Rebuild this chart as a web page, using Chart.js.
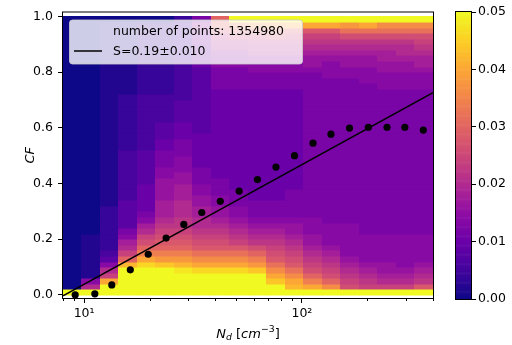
<!DOCTYPE html>
<html><head><meta charset="utf-8">
<script src="https://cdn.jsdelivr.net/npm/chart.js@4.4.0/dist/chart.umd.min.js"></script>
<style>
html,body{margin:0;padding:0;background:#fff;overflow:hidden}
#wrap{position:relative;width:512px;height:345px}
#main{position:absolute;left:0;top:0}
#cbar{position:absolute;left:440px;top:0}
</style></head><body>
<div id="wrap"><canvas id="main" width="512" height="345"></canvas><canvas id="cbar" width="72" height="345"></canvas></div>
<script>
// ---------------- data ----------------
const ndBinEdges = [8.0, 9.728, 11.83, 14.38, 17.49, 21.27, 25.86, 31.45, 38.24, 46.51, 56.55, 68.77, 83.62, 101.7, 123.6, 150.3, 182.8, 222.3, 270.3, 328.7, 400.0];
const cfBinWidth = 0.02;
// one string per Nd column, bottom (CF=0) to top (CF=1); letter a..z = 0..0.05 (step 0.002), Z = above 0.05; number = run length
const histColumns = [
  "Z1a49",
  "Z1k1h1b8a39",
  "Z2u1m1k1h1e1d1c8b33a1",
  "Z5v1p1m1k1j1h1g1e5d9c10b13a1",
  "Z5x1u1r1p1n1m1k1j1h1g1f5e6d10c13a1",
  "Z5w1t1r1p1o1n1m1l1k1j3i4h2g3f2e3d5c13a1",
  "Z4y1v1t1r1p1o1n1m1l2k3j3i2h3g3f3e4d14c1",
  "Z4x1u1s1q1o1n1m1l1k2j2i2h2g3f6e12f4g2h1i1g1",
  "Z4x1u1s1q1o1n1m1l1k1j1i2h2g3f16g4h2i1j1k1l1n1p2",
  "Z4x1u1s1q1o1m1l1k1j1i1h2g3f18g4h2i1j1k1m1o1r1Z1",
  "Z4w1t1r1p1n1l1k1j1i1h1g3f20g3h2i1j1k1l1m1o1s1Z1",
  "Z2w1u1s1q1o1n1m1l1k1j1i1h1g3f20g3h2i1j1k1l1n1p1t1Z1",
  "Z1v1u1s1q1o1n1m1l1k1j1i2h1g5f18g3h2i1j1k1l1m1o1u1Z1",
  "Z1u1r1p1n1m1l1k1j1i2h3g26h1i2j1k1l1m1o1u1Z1",
  "Z1s1p1n1m1l1k1j1i1h4g26h3i1j1k1l1m1o1u1Z1",
  "Z1n1m1l1k1j1i1h6g26h2i2j1k1l1n1q1t1Z1",
  "Z1m1l1k1j1i1h5g27h3i2j1k1l1n1q1u1Z1",
  "Z1m1k1j1i2h5g26h3i2j2k1l1n1q1s1Z1",
  "Z1m1k1j1i1h6g26h3i2j1k2l1n1q1s1Z1",
  "Z1o1l1k1j1i1h5g26h3i1j2k1l1m1n1q1s1Z1"
];
const ndBinMean = [9.1, 11.2, 13.4, 16.3, 19.7, 23.8, 28.7, 34.7, 42.2, 51.5, 62.5, 76.0, 92.5, 112.5, 136, 165.5, 202, 246, 297, 361];
const cfBinMean = [0.0, 0.004, 0.036, 0.09, 0.146, 0.204, 0.253, 0.296, 0.336, 0.373, 0.414, 0.459, 0.50, 0.545, 0.577, 0.599, 0.602, 0.602, 0.602, 0.592];
const fitNd = [8.0, 400.0];
const fitCf = [-0.003, 0.726];
const cfTicks = [0.0, 0.2, 0.4, 0.6, 0.8, 1.0];
const ndMajorTicks = [10, 100];
const ndMinorTicks = [8, 9, 20, 30, 40, 50, 60, 70, 80, 90, 200, 300, 400];
const cbarTicks = [0.00, 0.01, 0.02, 0.03, 0.04, 0.05];
const legendTexts = ["number of points: 1354980", "S=0.19±0.010"];
const vmax = 0.05;

// ---------------- helpers ----------------
const FONT = "'DejaVu Sans', sans-serif";
const PLASMA = [[13,8,135],[65,4,157],[106,0,168],[143,13,164],[177,42,144],[204,71,120],[225,100,98],[242,132,75],[252,166,54],[252,206,37],[240,249,33]];
function plasma(t){
  t = Math.max(0, Math.min(1, t));
  const s = t*10, i = Math.min(9, Math.floor(s)), f = s - i, a = PLASMA[i], b = PLASMA[i+1];
  return 'rgb(' + [0,1,2].map(k => Math.round(a[k] + (b[k]-a[k])*f)).join(',') + ')';
}
function decodeColumn(s){
  const out = []; const re = /([A-Za-z])(\d+)/g; let m;
  while ((m = re.exec(s))) {
    const v = m[1] === 'Z' ? 0.06 : (m[1].charCodeAt(0) - 97) * 0.002;
    for (let k = 0; k < +m[2]; k++) out.push(v);
  }
  return out.slice(0, 50);
}
const hist = histColumns.map(decodeColumn);

const heatmapPlugin = {
  id: 'heatmap',
  beforeDatasetsDraw(chart){
    const {ctx, chartArea: a, scales: {x, y}} = chart;
    ctx.save();
    ctx.beginPath(); ctx.rect(a.left, a.top, a.right - a.left, a.bottom - a.top); ctx.clip();
    hist.forEach((col, i) => {
      const x0 = x.getPixelForValue(ndBinEdges[i]), x1 = x.getPixelForValue(ndBinEdges[i+1]);
      col.forEach((v, j) => {
        const yb = y.getPixelForValue(j*cfBinWidth), yt = y.getPixelForValue((j+1)*cfBinWidth);
        ctx.fillStyle = plasma(v / vmax);
        ctx.fillRect(Math.round(x0), Math.round(yt), Math.round(x1) - Math.round(x0) + 0.5, Math.round(yb) - Math.round(yt) + 0.5);
      });
    });
    ctx.restore();
  },
  afterDatasetsDraw(chart){
    const {ctx, chartArea: a, scales: {x}} = chart;
    ctx.save();
    // frame
    ctx.strokeStyle = '#000'; ctx.lineWidth = 1;
    ctx.strokeRect(a.left - 0.5, a.top - 0.5, a.right - a.left + 1, a.bottom - a.top + 1);
    // minor ticks on log axis
    ctx.beginPath();
    ndMinorTicks.forEach(v => {
      const px = Math.round(x.getPixelForValue(v)) + 0.5;
      ctx.moveTo(px, a.bottom); ctx.lineTo(px, a.bottom + 3);
    });
    ctx.stroke();
    // legend
    const lx = a.left + 6.5, ly = a.top + 7.5, lw = 233, lh = 44;
    ctx.beginPath(); ctx.roundRect(lx, ly, lw, lh, 3);
    ctx.fillStyle = 'rgba(255,255,255,0.8)'; ctx.fill();
    ctx.strokeStyle = 'rgba(204,204,204,0.8)'; ctx.stroke();
    ctx.font = `12.5px ${FONT}`; ctx.fillStyle = '#000'; ctx.textBaseline = 'middle'; ctx.textAlign = 'left';
    ctx.fillText(legendTexts[0], lx + 43.5, ly + 11.5);
    ctx.fillText(legendTexts[1], lx + 43.5, ly + 31.5);
    ctx.beginPath(); ctx.moveTo(lx + 4.5, ly + 31); ctx.lineTo(lx + 32.5, ly + 31);
    ctx.strokeStyle = '#000'; ctx.lineWidth = 1.5; ctx.stroke();
    ctx.restore();
  },
  afterDraw(chart){
    const {ctx, chartArea: a} = chart;
    ctx.save();
    ctx.fillStyle = '#000'; ctx.textBaseline = 'alphabetic';
    // x title: N_d [cm^-3]
    const base = 13, small = 9.3;
    const parts = [
      {t:'N', f:`italic ${base}px ${FONT}`, dy:0},
      {t:'d', f:`italic ${small}px ${FONT}`, dy:2.5},
      {t:' [', f:`${base}px ${FONT}`, dy:0},
      {t:'cm', f:`italic ${base}px ${FONT}`, dy:0},
      {t:'\u22123', f:`${small}px ${FONT}`, dy:-5.5},
      {t:']', f:`${base}px ${FONT}`, dy:0}
    ];
    let w = 0;
    parts.forEach(p => { ctx.font = p.f; p.w = ctx.measureText(p.t).width; w += p.w; });
    let cx = (a.left + a.right)/2 - w/2; const by = 337.5;
    parts.forEach(p => { ctx.font = p.f; ctx.fillText(p.t, cx, by + p.dy); cx += p.w; });
    // y title: CF
    ctx.translate(31, (a.top + a.bottom)/2);
    ctx.rotate(-Math.PI/2);
    ctx.font = `italic ${base}px ${FONT}`; ctx.textAlign = 'center'; ctx.textBaseline = 'middle';
    ctx.fillText('CF', 0, 0);
    ctx.restore();
  }
};

new Chart(document.getElementById('main'), {
  type: 'scatter',
  data: {
    datasets: [
      { data: ndBinMean.map((v, i) => ({x: v, y: cfBinMean[i]})), backgroundColor: '#000', borderColor: '#000', pointRadius: 3.6, pointBorderWidth: 0, showLine: false },
      { data: fitNd.map((v, i) => ({x: v, y: fitCf[i]})), borderColor: '#000', borderWidth: 1.5, pointRadius: 0, showLine: true, fill: false }
    ]
  },
  options: {
    responsive: false, animation: false, events: [],
    layout: { padding: { left: 0, top: 12, right: 79, bottom: 0 } },
    plugins: { legend: { display: false }, tooltip: { enabled: false } },
    scales: {
      x: {
        type: 'logarithmic', min: 8.0, max: 400, position: 'bottom',
        afterBuildTicks: s => { s.ticks = ndMajorTicks.map(v => ({value: v})); },
        afterFit: s => { s.height = 47; },
        ticks: { autoSkip: false, maxRotation: 0, padding: 3, color: '#000', font: { family: FONT, size: 12.5 },
                 callback: v => v === 10 ? '10\u00b9' : (v === 100 ? '10\u00b2' : '') },
        grid: { drawOnChartArea: false, tickLength: 5, color: '#000' },
        border: { display: false }
      },
      y: {
        type: 'linear', min: -0.011, max: 1.014,
        afterBuildTicks: s => { s.ticks = cfTicks.map(v => ({value: v})); },
        afterFit: s => { s.width = 63; },
        ticks: { padding: 5, color: '#000', font: { family: FONT, size: 12.5 }, callback: v => Number(v).toFixed(1) },
        grid: { drawOnChartArea: false, tickLength: 5, color: '#000' },
        border: { display: false }
      }
    }
  },
  plugins: [heatmapPlugin]
});

const colorbarPlugin = {
  id: 'colorbar',
  beforeDatasetsDraw(chart){
    const {ctx, chartArea: a, scales: {y}} = chart;
    ctx.save();
    const n = 256;
    for (let i = 0; i < n; i++) {
      const y0 = y.getPixelForValue(i/n*vmax), y1 = y.getPixelForValue((i+1)/n*vmax);
      ctx.fillStyle = plasma((i + 0.5)/n);
      ctx.fillRect(a.left, y1, a.right - a.left, y0 - y1 + 0.6);
    }
    ctx.strokeStyle = '#000'; ctx.lineWidth = 1;
    ctx.strokeRect(a.left - 0.5, a.top - 0.5, a.right - a.left + 1, a.bottom - a.top + 1);
    ctx.restore();
  }
};

new Chart(document.getElementById('cbar'), {
  type: 'bar',
  data: { labels: [''], datasets: [{ data: [null] }] },
  options: {
    responsive: false, animation: false, events: [],
    layout: { padding: { left: 16, top: 12, right: 0, bottom: 46 } },
    plugins: { legend: { display: false }, tooltip: { enabled: false } },
    scales: {
      x: { display: false },
      y: {
        position: 'right', min: 0, max: vmax,
        afterBuildTicks: s => { s.ticks = cbarTicks.map(v => ({value: v})); },
        afterFit: s => { s.width = 41; },
        ticks: { padding: 2, color: '#000', font: { family: FONT, size: 12.5 }, callback: v => Number(v).toFixed(2) },
        grid: { drawOnChartArea: false, tickLength: 5, color: '#000' },
        border: { display: false }
      }
    }
  },
  plugins: [colorbarPlugin]
});
</script>
</body></html>
